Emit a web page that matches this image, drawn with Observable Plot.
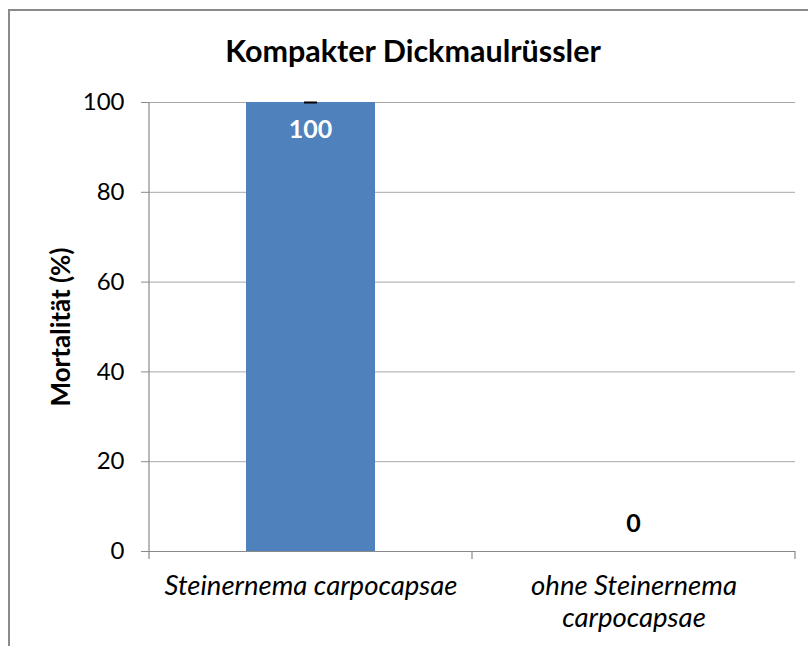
<!DOCTYPE html>
<html>
<head>
<meta charset="utf-8">
<script src="https://cdn.jsdelivr.net/npm/d3@7"></script>
<script src="https://cdn.jsdelivr.net/npm/@observablehq/plot@0.6"></script>
<style>
  html, body { margin: 0; padding: 0; background: #fff; overflow: hidden; }
  #wrap { position: relative; width: 808px; height: 646px; overflow: hidden; font-family: Lato, sans-serif; }
  #border { position: absolute; left: 8px; top: 9px; width: 900px; height: 800px; border: 2px solid #8a8a8a; box-sizing: border-box; }
  #title { position: absolute; left: 8px; width: 810px; top: 35px; text-align: center; font: bold 30.5px/30px Lato, sans-serif; color: #000; }
  #chart { position: absolute; left: 0; top: 70px; }
</style>
</head>
<body>
<div id="wrap">
  <div id="border"></div>
  <div id="title"></div>
  <div id="chart"></div>
</div>
<script>
const title = "Kompakter Dickmaulrüssler";
const yLabel = "Mortalität (%)";
const categories = ["Steinernema carpocapsae", "ohne Steinernema\ncarpocapsae"];
const values = [100, 0];
const errors = [0, 0];
const yTicks = [0, 20, 40, 60, 80, 100];

const data = categories.map((c, i) => ({category: c, value: values[i], error: errors[i]}));

const barColor = "#4f81bd";
const axisColor = "#8a8a8a";
const gridColor = "#a8a8a8";

document.getElementById("title").textContent = title;

// axis line, category boundary ticks and centred value labels, placed with Plot's scales
function axisAndLabels(index, scales, values, dims) {
  const x = scales.x, y = scales.y;
  const step = x.step(), bw = x.bandwidth();
  const pad = (step - bw) / 2;
  const g = d3.create("svg:g");
  const lines = g.append("g").attr("stroke", axisColor).attr("stroke-width", 1.2);
  lines.append("line")
    .attr("x1", dims.marginLeft).attr("x2", dims.marginLeft)
    .attr("y1", y(yTicks[0])).attr("y2", y(yTicks[yTicks.length - 1]));
  const edges = categories.map(c => x(c) - pad);
  edges.push(x(categories[categories.length - 1]) + bw + pad);
  for (const e of edges) {
    lines.append("line").attr("x1", e).attr("x2", e).attr("y1", y(0)).attr("y2", y(0) + 8);
  }
  const labels = g.append("g")
    .attr("font-family", "Lato, sans-serif").attr("font-size", 25).attr("font-weight", "bold")
    .attr("text-anchor", "middle");
  for (const d of data) {
    const inside = d.value > 0;
    labels.append("text")
      .attr("x", x(d.category) + bw / 2)
      .attr("y", y(d.value))
      .attr("dy", inside ? "1.45em" : "-0.75em")
      .attr("fill", inside ? "#fff" : "#000")
      .text(String(d.value));
  }
  return g.node();
}

const plot = Plot.plot({
  width: 808,
  height: 576,
  marginLeft: 149,
  marginRight: 13,
  marginTop: 32,
  marginBottom: 95,
  style: {fontFamily: "Lato, sans-serif", color: "#000", background: "transparent"},
  x: {domain: categories, paddingInner: 0.6, paddingOuter: 0.3, label: null},
  y: {domain: [0, 100], label: null},
  marks: [
    Plot.gridY({ticks: yTicks, stroke: gridColor, strokeOpacity: 1, strokeWidth: 1}),
    Plot.axisY({ticks: yTicks, tickSize: 8, tickPadding: 17, stroke: axisColor, fill: "#000", fontSize: 24, label: null}),
    Plot.axisX({tickSize: 0, tickPadding: 21, fontSize: 27.5, fontStyle: "italic", lineHeight: 1.15, fill: "#000", label: null}),
    Plot.barY(data, {x: "category", y: "value", fill: barColor}),
    Plot.ruleY([0], {stroke: axisColor, strokeWidth: 1.2}),
    Plot.tickY(data.filter(d => d.value > 0), {x: "category", y: d => d.value + d.error, stroke: "#000", strokeWidth: 2, insetLeft: 58, insetRight: 58}),
    axisAndLabels,
    Plot.text([yLabel], {frameAnchor: "left", textAnchor: "middle", text: d => d, rotate: -90, dx: -88, fontWeight: "bold", fontSize: 26, fill: "#000"})
  ]
});
document.getElementById("chart").appendChild(plot);
</script>
</body>
</html>
